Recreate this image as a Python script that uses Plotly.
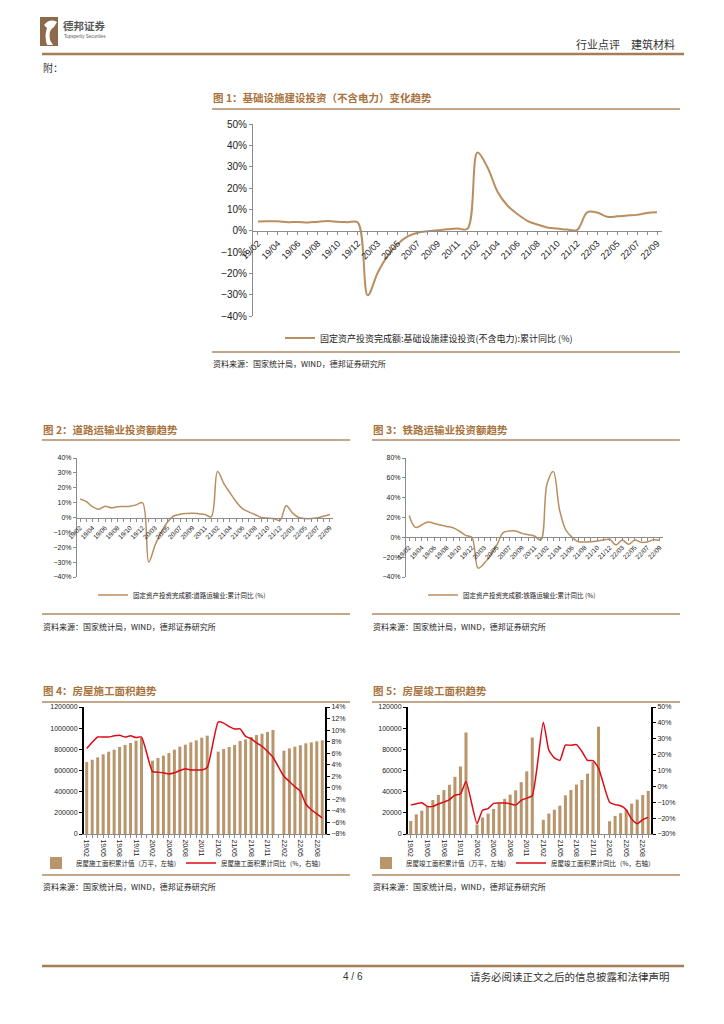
import plotly.graph_objects as go

# The page body has an 8px margin; the figure is sized so it fits the 724x1024 window.
OFF = 8
W, H = 724 - OFF, 1024 - OFF


def X(px):
    return (px - OFF) / W


def Y(py):
    return 1 - (py - OFF) / H


# ---------------- data ----------------
cats_m = ["19/02", "19/03", "19/04", "19/05", "19/06", "19/07", "19/08", "19/09", "19/10", "19/11", "19/12",
          "20/02", "20/03", "20/04", "20/05", "20/06", "20/07", "20/08", "20/09", "20/10", "20/11", "20/12",
          "21/02", "21/03", "21/04", "21/05", "21/06", "21/07", "21/08", "21/09", "21/10", "21/11", "21/12",
          "22/02", "22/03", "22/04", "22/05", "22/06", "22/07", "22/08", "22/09"]

cats_full = ["19/02", "19/03", "19/04", "19/05", "19/06", "19/07", "19/08", "19/09", "19/10", "19/11", "19/12",
             "20/01", "20/02", "20/03", "20/04", "20/05", "20/06", "20/07", "20/08", "20/09", "20/10", "20/11", "20/12",
             "21/01", "21/02", "21/03", "21/04", "21/05", "21/06", "21/07", "21/08", "21/09", "21/10", "21/11", "21/12",
             "22/01", "22/02", "22/03", "22/04", "22/05", "22/06", "22/07", "22/08", "22/09"]

infra_yoy = [4.3, 4.4, 4.4, 4.0, 4.1, 3.8, 4.2, 4.5, 4.2, 4.0, 3.8,
             -30.3, -19.7, -11.8, -6.3, -2.7, -1.0, -0.3, 0.2, 0.7, 1.0, 0.9,
             36.6, 29.7, 18.4, 11.8, 7.8, 4.6, 2.9, 1.5, 1.0, 0.5, 0.4,
             8.6, 8.5, 6.5, 6.7, 7.1, 7.4, 8.3, 8.6]

road_yoy = [12.4, 10.6, 7.2, 5.6, 7.6, 6.5, 7.2, 7.4, 7.6, 8.5, 9.9,
            -30.0, -18.6, -9.7, -3.0, 1.0, 2.2, 2.7, 2.9, 2.5, 2.0, 0.5,
            31.0, 23.0, 16.6, 10.6, 6.0, 3.8, 2.0, 0.0, -0.4, -0.7, -2.0,
            7.9, 3.1, 0.0, -0.7, -0.7, -0.2, 0.9, 2.0]

rail_yoy = [22.0, 10.0, 12.4, 15.5, 14.0, 12.4, 11.0, 9.7, 6.4, 2.0, 0.0,
            -31.0, -26.0, -18.0, -7.7, 4.7, 6.4, 6.4, 4.0, 2.7, 1.3, -2.7,
            54.0, 66.5, 27.6, 7.4, 0.0, -4.4, -4.7, -4.4, -3.7, -2.7, -2.0,
            -7.7, -2.7, -7.0, -2.7, -5.0, -4.7, -2.4, -3.0]

const_area = [680000, 702000, 724000, 753000, 778000, 797000, 822000, 841000, 860000, 882000, 907000, None,
              693000, 718000, 740000, 765000, 797000, 825000, 844000, 866000, 885000, 910000, 929000, None,
              778000, 803000, 822000, 841000, 879000, 894000, 917000, 935000, 948000, 964000, 983000, None,
              787000, 809000, 825000, 838000, 857000, 866000, 876000, 885000]

const_yoy = [6.8, 7.9, 8.8, 8.8, 8.8, 9.0, 9.1, 8.8, 9.0, 8.7, 8.8, None,
             2.8, 2.7, 2.6, 2.4, 2.6, 3.0, 3.3, 3.1, 3.1, 3.1, 3.5, None,
             11.4, 11.2, 10.6, 10.2, 10.2, 8.9, 8.5, 7.8, 7.2, 6.3, 5.3, None,
             2.0, 1.1, 0.2, -0.6, -2.8, -3.8, -4.5, -5.2]

comp_area = [12300, 18500, 22000, 26300, 32100, 36800, 41500, 46500, 54000, 63800, 95900, None,
             8960, 15600, 19300, 23700, 28600, 33200, 37200, 41300, 49000, 59200, 91200, None,
             13400, 19300, 22900, 26700, 36500, 41600, 46700, 51000, 57000, 68000, 101400, None,
             12100, 17100, 19700, 23000, 28700, 32500, 36800, 40700]

comp_yoy = [-11.8, -11.0, -10.3, -12.6, -12.6, -11.1, -9.9, -8.4, -5.5, -4.8, 3.0, None,
            -23.5, -15.0, -14.0, -10.7, -10.5, -10.5, -10.9, -11.8, -8.8, -7.4, -5.9, None,
            40.4, 22.8, 18.0, 16.4, 26.0, 25.9, 26.3, 22.0, 16.4, 16.2, 11.5, None,
            -10.0, -11.5, -12.2, -14.7, -20.6, -23.5, -21.0, -19.5]

tick_m = [c if i % 2 == 0 else "" for i, c in enumerate(cats_m)]
tick_f = [c if i % 3 == 0 else "" for i, c in enumerate(cats_full)]

# ---------------- styles ----------------
BROWN = "#B98E60"
BAR = "#B8956B"
RED = "#DC0A14"
TITLE = "#A8733D"
RULE = "#B08A62"
AXIS = "#8C8C8C"
TXT = "#222222"
CJK = "Noto Sans CJK SC"
LAT = "Liberation Sans"

fig = go.Figure()

# Chart 1
fig.add_trace(go.Scatter(x=cats_m, y=infra_yoy, mode="lines",
                         line=dict(color=BROWN, width=2, shape="spline", smoothing=1.0),
                         name="固定资产投资完成额:基础设施建设投资(不含电力):累计同比 (%)",
                         xaxis="x", yaxis="y", legend="legend"))
# Chart 2
fig.add_trace(go.Scatter(x=cats_m, y=road_yoy, mode="lines",
                         line=dict(color=BROWN, width=1.5, shape="spline", smoothing=1.0),
                         name="固定资产投资完成额:道路运输业:累计同比 (%)",
                         xaxis="x2", yaxis="y2", legend="legend2"))
# Chart 3
fig.add_trace(go.Scatter(x=cats_m, y=rail_yoy, mode="lines",
                         line=dict(color=BROWN, width=1.5, shape="spline", smoothing=1.0),
                         name="固定资产投资完成额:铁路运输业:累计同比 (%)",
                         xaxis="x3", yaxis="y3", legend="legend3"))
# Chart 4
fig.add_trace(go.Bar(x=cats_full, y=const_area, marker=dict(color=BAR, line=dict(width=0)),
                     name="房屋施工面积累计值（万平，左轴）",
                     xaxis="x4", yaxis="y4", legend="legend4"))
fig.add_trace(go.Scatter(x=cats_full, y=const_yoy, mode="lines", connectgaps=True,
                         line=dict(color=RED, width=1.5, shape="spline", smoothing=0.5),
                         name="房屋施工面积累计同比（%，右轴）",
                         xaxis="x4", yaxis="y6", legend="legend4"))
# Chart 5
fig.add_trace(go.Bar(x=cats_full, y=comp_area, marker=dict(color=BAR, line=dict(width=0)),
                     name="房屋竣工面积累计值（万平，左轴）",
                     xaxis="x5", yaxis="y5", legend="legend5"))
fig.add_trace(go.Scatter(x=cats_full, y=comp_yoy, mode="lines", connectgaps=True,
                         line=dict(color=RED, width=1.5, shape="spline", smoothing=0.5),
                         name="房屋竣工面积累计同比（%，右轴）",
                         xaxis="x5", yaxis="y7", legend="legend5"))


def zero_pos(top, bottom, lo, hi):
    d0, d1 = Y(bottom), Y(top)
    return d0 + (d1 - d0) * (0 - lo) / (hi - lo)


def cat_x(domain, ticktext, cats, size, angle, anchor=None, position=None, linecolor=AXIS):
    d = dict(domain=domain, type="category", range=[-0.5, len(cats) - 0.5],
             tickmode="array", tickvals=cats, ticktext=ticktext, tickangle=angle,
             ticks="outside", ticklen=3, tickcolor=AXIS, tickwidth=1,
             showline=True, linecolor=linecolor, linewidth=1, automargin=False,
             showgrid=False, zeroline=False, fixedrange=True,
             tickfont=dict(family=LAT, size=size, color=TXT))
    if anchor == "free":
        d.update(anchor="free", position=position)
    else:
        d.update(anchor=anchor)
    return d


def val_y(top, bottom, rng, dtick, size, anchor, suffix="", fmt=None, linecolor=AXIS, lw=1, side="left"):
    d = dict(domain=[Y(bottom), Y(top)], range=rng, dtick=dtick, tick0=rng[0],
             ticksuffix=suffix, showline=True, linecolor=linecolor, linewidth=lw,
             ticks="outside", ticklen=3, tickcolor=linecolor, side=side, automargin=False,
             showgrid=False, zeroline=False, fixedrange=True, anchor=anchor,
             tickfont=dict(family=LAT, size=size, color=TXT))
    if fmt:
        d["tickformat"] = fmt
    return d


layout = dict(
    template="none",
    width=W, height=H, margin=dict(l=0, r=0, t=0, b=0, pad=0, autoexpand=False),
    paper_bgcolor="white", plot_bgcolor="white",
    font=dict(family=f"{LAT}, {CJK}", color=TXT),
    showlegend=True, bargap=0.45,
    xaxis=cat_x([X(253), X(662)], tick_m, cats_m, 9, -45, "free", zero_pos(124, 316, -40, 50)),
    yaxis=val_y(124, 316, [-40, 50], 10, 10, "x", "%"),
    xaxis2=cat_x([X(77), X(333)], tick_m, cats_m, 6.5, -45, "free", zero_pos(458, 577, -40, 40)),
    yaxis2=val_y(458, 577, [-40, 40], 10, 7, "x2", "%"),
    xaxis3=cat_x([X(406), X(663)], tick_m, cats_m, 6.5, -45, "free", zero_pos(458, 577, -40, 80)),
    yaxis3=val_y(458, 577, [-40, 80], 20, 7, "x3", "%"),
    xaxis4=cat_x([X(84), X(325)], tick_f, cats_full, 7, 90, "y4"),
    yaxis4=val_y(707, 834, [0, 1200000], 200000, 7, "x4", "", "d", "#000000", 2),
    yaxis6=dict(val_y(707, 834, [-8, 14], 2, 7, "x4", "%", None, "#000000", 2, "right"), overlaying="y4"),
    xaxis5=cat_x([X(408), X(651)], tick_f, cats_full, 7, 90, "y5"),
    yaxis5=val_y(707, 834, [0, 120000], 20000, 7, "x5", "", "d", "#000000", 2),
    yaxis7=dict(val_y(707, 834, [-30, 50], 10, 7, "x5", "%", None, "#000000", 2, "right"), overlaying="y5"),
)

leg_common = dict(bgcolor="rgba(0,0,0,0)", borderwidth=0, yanchor="middle", xanchor="left",
                  itemwidth=30, tracegroupgap=0)
layout["legend"] = dict(leg_common, x=X(280), y=Y(338), font=dict(family=CJK, size=9, color=TXT))
layout["legend2"] = dict(leg_common, x=X(93), y=Y(595), font=dict(family=CJK, size=6.5, color=TXT))
layout["legend3"] = dict(leg_common, x=X(423), y=Y(595), font=dict(family=CJK, size=6.5, color=TXT))
layout["legend4"] = dict(leg_common, x=X(36), y=Y(863), orientation="h",
                         entrywidth=100, entrywidthmode="pixels",
                         font=dict(family=CJK, size=6.5, color=TXT))
layout["legend5"] = dict(leg_common, x=X(366), y=Y(863), orientation="h",
                         entrywidth=100, entrywidthmode="pixels",
                         font=dict(family=CJK, size=6.5, color=TXT))

fig.update_layout(**layout)

# ---------------- page decoration ----------------
shapes = []


def hline(x0, x1, y, color=RULE, width=1.5):
    shapes.append(dict(type="line", xref="paper", yref="paper", x0=X(x0), x1=X(x1), y0=Y(y), y1=Y(y),
                       line=dict(color=color, width=width)))


hline(42, 684, 54, "#A57D57", 2.5)
hline(212, 680, 109)
hline(212, 680, 352)
hline(42, 350, 440)
hline(372, 680, 440)
hline(42, 350, 614)
hline(372, 680, 614)
hline(42, 350, 702)
hline(372, 680, 702)
hline(42, 350, 875)
hline(372, 680, 875)
hline(42, 684, 966, "#A57D57", 2.5)

# logo block
shapes.append(dict(type="rect", xref="paper", yref="paper", x0=X(40), x1=X(58), y0=Y(46), y1=Y(17),
                   fillcolor="#8C6A4A", line=dict(width=0)))
shapes.append(dict(type="path", xref="paper", yref="paper",
                   path=f"M {X(44)},{Y(25)} Q {X(50)},{Y(18)} {X(57)},{Y(22)} L {X(54)},{Y(27)} "
                        f"Q {X(48)},{Y(30)} {X(50)},{Y(40)} L {X(53)},{Y(45)} L {X(47)},{Y(45)} "
                        f"Q {X(44)},{Y(36)} {X(47)},{Y(28)} Z",
                   fillcolor="white", line=dict(width=0)))
fig.update_layout(shapes=shapes)

ann = []


def text(x, y, s, size, color=TXT, anchor="left", bold=False, family=CJK):
    ann.append(dict(xref="paper", yref="paper", x=X(x), y=Y(y), text=(f"<b>{s}</b>" if bold else s),
                    showarrow=False, xanchor=anchor, yanchor="middle",
                    font=dict(family=family, size=size, color=color)))


text(61, 26, "德邦证券", 10.5, "#595959", bold=True)
text(62, 37, "Topsperity Securities", 4.5, "#595959", family=LAT)
text(677, 44, "行业点评　建筑材料", 11, "#333333", anchor="right")
text(41, 67, "附：", 10, "#333333")

text(211, 98, "图 1：基础设施建设投资（不含电力）变化趋势", 10.5, TITLE, bold=True)
text(211, 363, "资料来源：国家统计局，WIND，德邦证券研究所", 8)

text(41, 430, "图 2：道路运输业投资额趋势", 10.5, TITLE, bold=True)
text(371, 430, "图 3：铁路运输业投资额趋势", 10.5, TITLE, bold=True)
text(41, 626, "资料来源：国家统计局，WIND，德邦证券研究所", 8)
text(371, 626, "资料来源：国家统计局，WIND，德邦证券研究所", 8)

text(41, 690, "图 4：房屋施工面积趋势", 10.5, TITLE, bold=True)
text(371, 690, "图 5：房屋竣工面积趋势", 10.5, TITLE, bold=True)
text(41, 886, "资料来源：国家统计局，WIND，德邦证券研究所", 8)
text(371, 886, "资料来源：国家统计局，WIND，德邦证券研究所", 8)

text(353, 976, "4 / 6", 10, "#333333", anchor="center", family=LAT)
text(672, 976, "请务必阅读正文之后的信息披露和法律声明", 10.5, "#333333", anchor="right")

fig.update_layout(annotations=ann)

fig.write_html("out.html")
